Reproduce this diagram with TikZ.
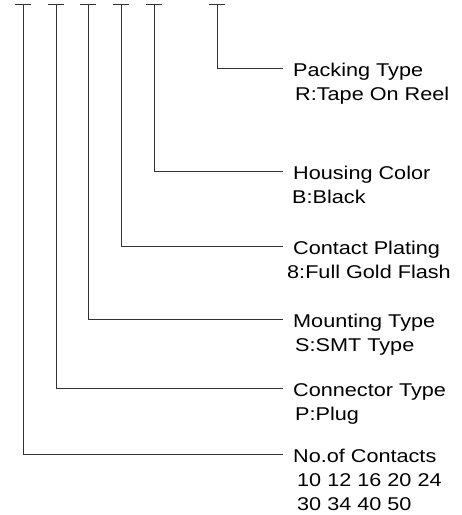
\documentclass[tikz,border=0pt]{standalone}
\usepackage{fontspec}
\setmainfont{Liberation Sans}
\usetikzlibrary{positioning}
\newcommand\wide[1]{\scalebox{1.17}[1]{#1}}
\tikzset{
  lead/.style={draw=black!80, line width=0.9pt},
  title/.style={anchor=base west, inner sep=0pt, font=\fontsize{18.5}{22}\selectfont},
  choice/.style={title}}

\begin{document}
\begin{tikzpicture}[x=1pt, y=-1pt]
  \useasboundingbox (0,0) rectangle (462,515);
  % code positions
  \coordinate (c1) at (23,4);
  \coordinate (c2) at (56,4);
  \coordinate (c3) at (88,4);
  \coordinate (c4) at (121,4);
  \coordinate (c5) at (154,4);
  \coordinate (c6) at (217,4);
  % lead ends
  \coordinate (e1) at (283,454);
  \coordinate (e2) at (283,388);
  \coordinate (e3) at (283,319);
  \coordinate (e4) at (283,246);
  \coordinate (e5) at (283,171);
  \coordinate (e6) at (283,68);
  % labels
  \node[title]  (pack)   at (293,76.5)  {\wide{Packing Type}};
  \node[choice] (pack1)  at (295,100.5) {\wide{R:Tape On Reel}};
  \node[title]  (house)  at (293,179.5) {\wide{Housing Color}};
  \node[choice] (house1) at (292,203.5) {\wide{B:Black}};
  \node[title]  (plate)  at (293,254.5) {\wide{Contact Plating}};
  \node[choice] (plate1) at (287,278.5) {\wide{8:Full Gold Flash}};
  \node[title]  (mount)  at (293,327.5) {\wide{Mounting Type}};
  \node[choice] (mount1) at (295,351.5) {\wide{S:SMT Type}};
  \node[title]  (conn)   at (293,396.5) {\wide{Connector Type}};
  \node[choice] (conn1)  at (295,420.5) {\wide{P:Plug}};
  \node[title]  (pins)   at (293,462.5) {\wide{No.of Contacts}};
  \node[choice] (pins1)  at (297,486.5) {\wide{10 12 16 20 24}};
  \node[choice] (pins2)  at (297,510.5) {\wide{30 34 40 50}};
  % leads
  \foreach \i in {1,...,6} {
    \draw[lead] ([xshift=-8pt]c\i) -- ([xshift=8pt]c\i);
    \draw[lead] (c\i) |- (e\i);
  }
\end{tikzpicture}
\end{document}
